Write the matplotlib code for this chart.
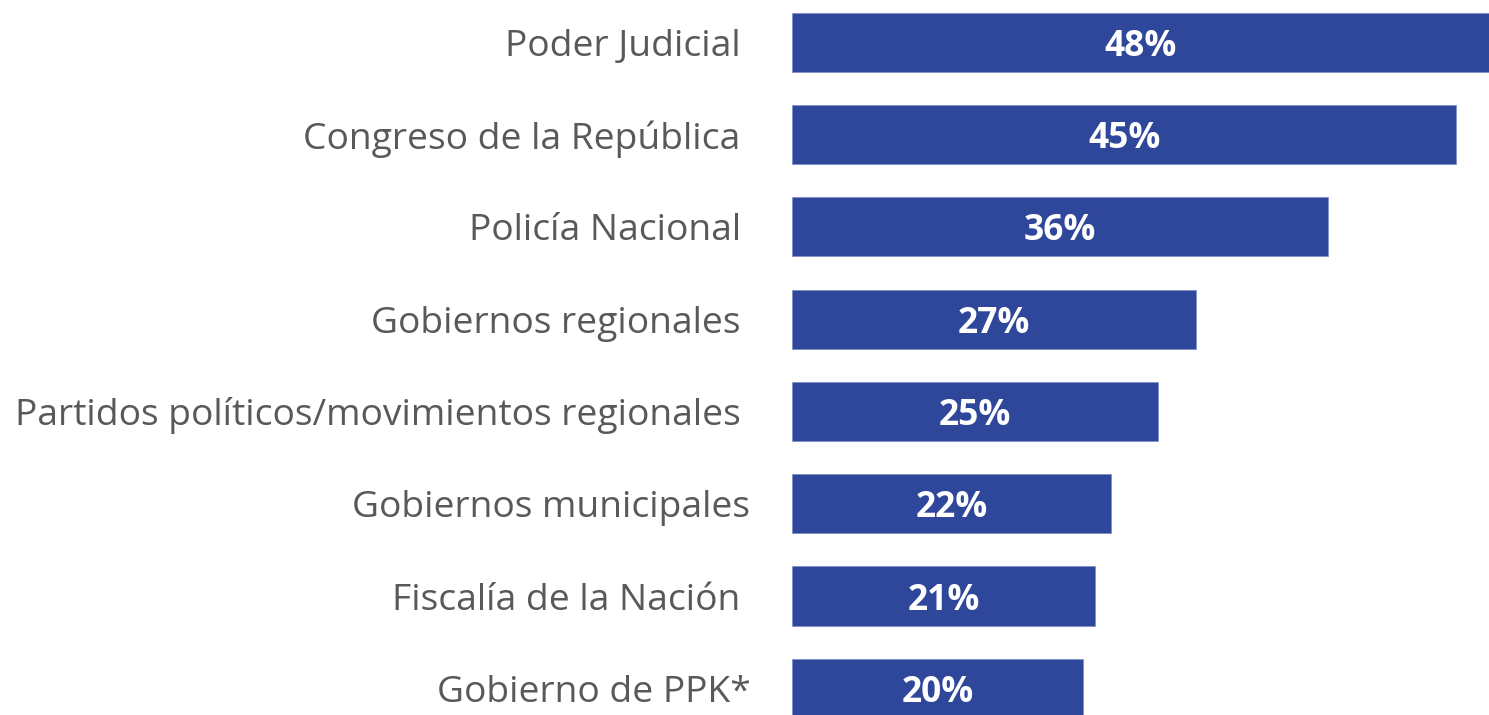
import matplotlib.pyplot as plt

# -----------------------------
# DATA
# -----------------------------
institutions = [
    "Poder Judicial ",
    "Congreso de la República ",
    "Policía Nacional ",
    "Gobiernos regionales ",
    "Partidos políticos/movimientos regionales ",
    "Gobiernos municipales",
    "Fiscalía de la Nación ",
    "Gobierno de PPK*",
]
bar_values = [47.95, 45.7, 36.9, 27.8, 25.2, 21.95, 20.85, 20.0]
pct_labels = ["48%", "45%", "36%", "27%", "25%", "22%", "21%", "20%"]

BAR_COLOR = "#2F479A"
TEXT_COLOR = "#595959"

plt.rcParams['font.family'] = ['Open Sans', 'DejaVu Sans']

# -----------------------------
# PLOT
# -----------------------------
fig = plt.figure(figsize=(14.89, 7.15), dpi=100)
ax = fig.add_axes([792 / 1489, 0, 1 - 792 / 1489, 1])

ypos = list(range(len(institutions)))
ax.barh(ypos, bar_values, height=0.64, color=BAR_COLOR,
        edgecolor="#8090C8", linewidth=0.6)

for y, v, lab in zip(ypos, bar_values, pct_labels):
    ax.text(v / 2, y, lab, ha="center", va="center_baseline", color="white",
            fontsize=25.5, fontweight="bold")

ax.set_xlim(0, 47.95)
ax.set_ylim(7.289, -0.457)
ax.set_yticks(ypos)
ax.set_yticklabels(institutions, fontsize=26.8, color=TEXT_COLOR)
ax.tick_params(axis="y", length=0, pad=30)
ax.set_xticks([])
for s in ax.spines.values():
    s.set_visible(False)

fig.savefig("out.png", dpi=100)
